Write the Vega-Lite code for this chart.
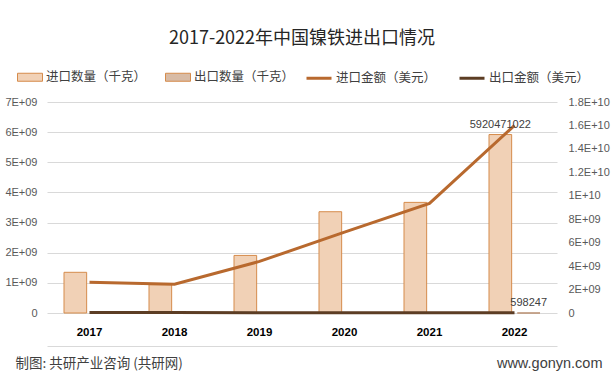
{
  "$schema": "https://vega.github.io/schema/vega-lite/v6.json",
  "width": 510,
  "height": 211,
  "autosize": {"type": "none"},
  "padding": {"left": 47, "top": 102, "right": 57, "bottom": 72},
  "background": "white",
  "title": {
    "text": "2017-2022年中国镍铁进出口情况",
    "anchor": "middle",
    "font": "Noto Sans CJK SC",
    "fontSize": 18,
    "fontWeight": "normal",
    "color": "#262626",
    "offset": 16
  },
  "config": {
    "view": {"stroke": null},
    "axis": {"labelOverlap": false, "labelBound": false, "labelSeparation": 0}
  },
  "datasets": {
    "qty": [
      {"year": "2017", "series": "进口数量（千克）", "value": 1350000000},
      {"year": "2018", "series": "进口数量（千克）", "value": 940000000},
      {"year": "2019", "series": "进口数量（千克）", "value": 1910000000},
      {"year": "2020", "series": "进口数量（千克）", "value": 3360000000},
      {"year": "2021", "series": "进口数量（千克）", "value": 3670000000},
      {"year": "2022", "series": "进口数量（千克）", "value": 5920471022},
      {"year": "2017", "series": "出口数量（千克）", "value": 800000},
      {"year": "2018", "series": "出口数量（千克）", "value": 500000},
      {"year": "2019", "series": "出口数量（千克）", "value": 700000},
      {"year": "2020", "series": "出口数量（千克）", "value": 400000},
      {"year": "2021", "series": "出口数量（千克）", "value": 300000},
      {"year": "2022", "series": "出口数量（千克）", "value": 598247}
    ],
    "amt": [
      {"year": "2017", "series": "进口金额（美元）", "value": 2620000000},
      {"year": "2018", "series": "进口金额（美元）", "value": 2450000000},
      {"year": "2019", "series": "进口金额（美元）", "value": 4400000000},
      {"year": "2020", "series": "进口金额（美元）", "value": 6900000000},
      {"year": "2021", "series": "进口金额（美元）", "value": 9350000000},
      {"year": "2022", "series": "进口金额（美元）", "value": 16000000000},
      {"year": "2017", "series": "出口金额（美元）", "value": 40000000},
      {"year": "2018", "series": "出口金额（美元）", "value": 35000000},
      {"year": "2019", "series": "出口金额（美元）", "value": 30000000},
      {"year": "2020", "series": "出口金额（美元）", "value": 20000000},
      {"year": "2021", "series": "出口金额（美元）", "value": 25000000},
      {"year": "2022", "series": "出口金额（美元）", "value": 30000000}
    ]
  },
  "layer": [
    {
      "data": {"name": "qty"},
      "mark": {"type": "bar", "strokeWidth": 1, "opacity": 1},
      "encoding": {
        "x": {
          "field": "year",
          "type": "nominal",
          "scale": {"paddingInner": 0.4, "paddingOuter": 0.2},
          "axis": {
            "title": null,
            "labelAngle": 0,
            "ticks": false,
            "offset": 33,
            "domain": true,
            "domainColor": "#d9d9d9",
            "domainWidth": 1,
            "labelPadding": -20,
            "labelFont": "Liberation Sans",
            "labelFontSize": 11.5,
            "labelFontWeight": "bold",
            "labelColor": "#000000"
          }
        },
        "xOffset": {
          "field": "series",
          "type": "nominal",
          "scale": {"domain": ["进口数量（千克）", "出口数量（千克）"], "paddingInner": 0.2}
        },
        "y": {
          "field": "value",
          "type": "quantitative",
          "scale": {"domain": [0, 7000000000], "nice": false},
          "axis": {
            "values": [0, 1000000000, 2000000000, 3000000000, 4000000000, 5000000000, 6000000000, 7000000000],
            "labelExpr": "datum.value == 0 ? '0' : (round(datum.value / 1e9)) + 'E+09'",
            "labelOverlap": false,
            "grid": true,
            "gridColor": "#d9d9d9",
            "gridWidth": 1,
            "domain": false,
            "ticks": false,
            "labelPadding": 10,
            "labelFont": "Liberation Sans",
            "labelFontSize": 11,
            "labelColor": "#595959",
            "title": "制图: 共研产业咨询 (共研网)",
            "titleAngle": 0,
            "titleX": -32,
            "titleY": 261,
            "titleAlign": "left",
            "titleBaseline": "middle",
            "titleFont": "Noto Sans CJK SC",
            "titleFontSize": 13.5,
            "titleFontWeight": "normal",
            "titleColor": "#404040"
          }
        },
        "fill": {
          "field": "series",
          "type": "nominal",
          "scale": {
            "domain": ["进口数量（千克）", "出口数量（千克）"],
            "range": ["#f1d1b6", "#d8bba5"]
          },
          "legend": {
            "title": null,
            "orient": "none",
            "legendX": -30,
            "legendY": -38,
            "direction": "horizontal",
            "columns": 2,
            "columnPadding": 16,
            "labelOffset": 3,
            "symbolType": "M-1,-0.32H1V0.32H-1Z",
            "symbolSize": 625,
            "symbolStrokeColor": "#d58b4b",
            "symbolStrokeWidth": 1,
            "labelFont": "Noto Sans CJK SC",
            "labelFontSize": 12.5,
            "labelColor": "#404040",
            "labelLimit": 200
          }
        },
        "stroke": {
          "condition": {"test": "datum.series == '进口数量（千克）'", "value": "#d58b4b"},
          "value": "#b98e70"
        }
      }
    },
    {
      "data": {"name": "amt"},
      "mark": {"type": "line", "strokeWidth": 3},
      "encoding": {
        "x": {"field": "year", "type": "nominal"},
        "y": {
          "field": "value",
          "type": "quantitative",
          "scale": {"domain": [0, 18000000000], "nice": false},
          "axis": {
            "orient": "right",
            "values": [0, 2000000000, 4000000000, 6000000000, 8000000000, 10000000000, 12000000000, 14000000000, 16000000000, 18000000000],
            "labelExpr": "datum.value == 0 ? '0' : datum.value < 1e10 ? (round(datum.value / 1e9) + 'E+09') : ((round(datum.value / 1e9) / 10) + 'E+10')",
            "labelOverlap": false,
            "grid": false,
            "domain": false,
            "ticks": false,
            "labelPadding": 11,
            "labelFont": "Liberation Sans",
            "labelFontSize": 11,
            "labelColor": "#595959",
            "title": "www.gonyn.com",
            "titleAngle": 0,
            "titleX": 45,
            "titleY": 261,
            "titleAlign": "right",
            "titleBaseline": "middle",
            "titleFont": "Liberation Sans",
            "titleFontSize": 14.5,
            "titleFontWeight": "normal",
            "titleColor": "#404040"
          }
        },
        "stroke": {
          "field": "series",
          "type": "nominal",
          "scale": {
            "domain": ["进口金额（美元）", "出口金额（美元）"],
            "range": ["#b8692e", "#5c3d24"]
          },
          "legend": {
            "title": null,
            "orient": "none",
            "legendX": 258,
            "legendY": -38,
            "direction": "horizontal",
            "columns": 2,
            "columnPadding": 16,
            "labelOffset": 3,
            "symbolType": "stroke",
            "symbolSize": 625,
            "symbolStrokeWidth": 3,
            "labelFont": "Noto Sans CJK SC",
            "labelFontSize": 12.5,
            "labelColor": "#404040",
            "labelLimit": 200
          }
        }
      }
    },
    {
      "data": {"name": "qty"},
      "transform": [{"filter": "datum.year == '2022'"}],
      "mark": {
        "type": "text",
        "baseline": "bottom",
        "dy": -5,
        "font": "Liberation Sans",
        "fontSize": 11,
        "color": "#404040"
      },
      "encoding": {
        "x": {"field": "year", "type": "nominal"},
        "xOffset": {"field": "series", "type": "nominal", "scale": {"domain": ["进口数量（千克）", "出口数量（千克）"], "paddingInner": 0.2}},
        "y": {"field": "value", "type": "quantitative", "scale": {"domain": [0, 7000000000], "nice": false}, "axis": null},
        "text": {"field": "value", "type": "quantitative", "format": "d"}
      }
    }
  ],
  "resolve": {"scale": {"y": "independent"}}
}
